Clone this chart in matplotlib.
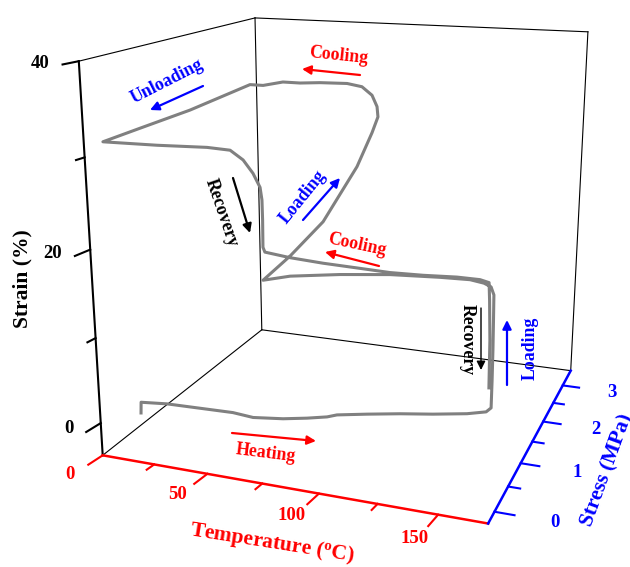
import matplotlib.pyplot as plt

plt.rcParams['font.family'] = ['Liberation Serif', 'DejaVu Serif']
plt.rcParams['font.weight'] = 'bold'
plt.rcParams['mathtext.fontset'] = 'custom'
plt.rcParams['mathtext.rm'] = 'Liberation Serif:bold'
plt.rcParams['mathtext.bf'] = 'Liberation Serif:bold'

# box limits
t_lim = (0, 170)
s_lim = (-0.22, 3.45)
e_lim = (-3.9, 40)

# test path: temperature (C), stress (MPa), strain (%)
temp = [14.0, 14.3, 26.8, 42.4, 57.7, 66.9, 80.4, 91.0, 99.8, 104.1, 116.9,
        130.7, 144.2, 157.9, 165.4, 167.3,            # heating
        166.8, 166.2, 165.5, 164.8,                   # loading
        163.6, 160.8, 155.3, 143.4, 123.1, 102.1, 80.6, 68.6,   # cooling
        72.7, 77.1, 77.2, 75.1, 73.8,                 # loading
        73.3, 70.7, 65.5, 57.8, 43.6, 33.0, 23.8, 13.0, 5.8,     # cooling
        0.6, 0.6, 2.7,                                # unloading
        27.5, 49.8, 59.8, 65.3, 69.4, 72.3, 73.0, 73.1, 73.0,    # heating / recovery
        73.8, 84.6, 98.5, 112.6, 126.1, 139.3, 152.6, 161.5, 165.0,
        165.4, 166.0, 166.2]                          # recovery
stress = [0] * 16 + \
         [0.05, 0.1, 0.15, 0.2] + \
         [0.2] * 8 + \
         [0.61, 1.2, 2.14, 2.73, 3.0] + \
         [3.0] * 9 + \
         [1.78, 0.75, 0] + \
         [0] * 9 + \
         [0] * 9 + \
         [0] * 3
strain = [0.7, 2.0, 2.3, 2.4, 2.5, 2.3, 2.7, 3.2, 3.7, 4.1, 4.7,
          5.3, 5.8, 6.4, 6.9, 7.4,
          10.1, 13.1, 16.0, 18.4,
          19.2, 19.5, 19.7, 19.6, 19.3, 18.7, 17.9, 17.1,
          18.5, 20.7, 24.7, 27.5, 28.9,
          30.2, 31.6, 32.6, 32.9, 32.8, 32.6, 32.6, 32.0, 32.0,
          31.0, 31.0, 31.2,
          31.3, 31.5, 31.4, 30.5, 29.2, 27.8, 26.5, 24.4, 21.5,
          21.0, 20.7, 20.5, 20.4, 20.3, 20.4, 20.6, 20.6, 20.4,
          18.6, 14.5, 9.5]

t_major = [0, 50, 100, 150]
t_minor = [25, 75, 125]
s_major = [0, 1, 2, 3]
s_minor = [0.5, 1.5, 2.5]
e_major = [0, 20, 40]
e_minor = [10, 30]

fig = plt.figure(figsize=(6.3, 5.67), dpi=100)
ax = fig.add_axes([0.1015, 0.072, 0.9, 1.0], projection='3d', computed_zorder=False)
ax.set_proj_type('persp', focal_length=0.41)
ax.view_init(elev=16, azim=-69.7)
ax.set_box_aspect((1.19, 1.155, 1.185), zoom=1.1145)
ax.set_xlim(t_lim)
ax.set_ylim(s_lim)
ax.set_zlim(e_lim)
ax.set_axis_off()

t0, t1 = t_lim
s0, s1 = s_lim
e0, e1 = e_lim

# box frame
thin = dict(color='black', lw=0.8, clip_on=False)
ax.plot([t0, t0], [s0, s1], [e1, e1], **thin)
ax.plot([t0, t0], [s1, s1], [e0, e1], **thin)
ax.plot([t0, t0], [s0, s1], [e0, e0], **thin)
ax.plot([t0, t1], [s1, s1], [e1, e1], **thin)
ax.plot([t1, t1], [s1, s1], [e0, e1], **thin)
ax.plot([t0, t1], [s1, s1], [e0, e0], **thin)
ax.plot([t0, t0], [s0, s0], [e0, e1], color='black', lw=1.5, clip_on=False)
ax.plot([t0, t1], [s0, s0], [e0, e0], color='red', lw=1.8, clip_on=False)
ax.plot([t1, t1], [s0, s1], [e0, e0], color='blue', lw=1.8, clip_on=False)

# ticks (pointing out of the box)
dt, ds = -1.0, -0.22
for t in t_major + t_minor:
    k = 1 if t in t_major else 0.55
    ax.plot([t, t + k * dt], [s0, s0 + k * ds], [e0, e0], color='red', lw=1.5, clip_on=False)
for e in e_major + e_minor:
    k = 1 if e in e_major else 0.55
    ax.plot([t0, t0 + k * dt], [s0, s0 + k * ds], [e, e], color='black', lw=1.5, clip_on=False)
for s in s_major + s_minor:
    k = 8 if s in s_major else 5
    ax.plot([t1, t1 + k], [s, s], [e0, e0], color='blue', lw=1.5, clip_on=False)

for t in t_major:
    ax.text(t - 3.0, s0 - 0.46, e0, str(t), color='red', fontsize=13.5,
            ha='center', va='center')
for e in e_major:
    ax.text(t0 - 7.8, s0 - 0.19, e, str(e), color='black', fontsize=13.5,
            ha='right', va='center')
for s in s_major:
    ax.text(t1 + 24, s, e0, str(s), color='blue', fontsize=13.5,
            ha='center', va='center')

# the measured path
ax.plot(temp, stress, strain, color='#808080', lw=2.2, clip_on=False,
        solid_joinstyle='round')

# annotations in pixel coordinates
ov = fig.add_axes([0, 0, 1, 1])
ov.set_xlim(0, 630)
ov.set_ylim(567, 0)
ov.axis('off')

ov.text(22, 279, 'Strain (%)', fontsize=15.5, rotation=90, ha='center', va='center')
ov.text(272, 543, r'Temperature ($\mathbf{^{o}}$C)', fontsize=15.5, color='red',
        rotation=-9, ha='center', va='center', rotation_mode='anchor')
ov.text(607, 470, 'Stress (MPa)', fontsize=15.5, color='blue',
        rotation=70, ha='center', va='center', rotation_mode='anchor')

labels = [
    ('Unloading', 167, 81, 27, 'blue'),
    ('Cooling', 338, 56, -6, 'red'),
    ('Recovery', 221, 213, -71, 'black'),
    ('Loading', 303, 197, 51, 'blue'),
    ('Cooling', 357, 245, -12, 'red'),
    ('Recovery', 467, 340, -90, 'black'),
    ('Loading', 530, 348, 90, 'blue'),
    ('Heating', 266, 453, -7, 'red'),
]
for txt, x, y, rot, c in labels:
    ov.text(x, y, txt, fontsize=12.8, color=c, rotation=rot,
            ha='center', va='center', rotation_mode='anchor')

arrows = [
    ((203, 86), (150, 110), 'blue', 1.6),
    ((360, 75), (302, 69), 'red', 1.6),
    ((233, 178), (250, 233), 'black', 1.6),
    ((303, 220), (340, 178), 'blue', 1.6),
    ((379, 266), (325, 252), 'red', 1.6),
    ((481, 308), (481, 370), 'black', 1.0),
    ((507, 385), (507, 320), 'blue', 1.6),
    ((232, 433), (316, 441), 'red', 1.6),
]
for (x0, y0), (x1, y1), c, w in arrows:
    ov.annotate('', xy=(x1, y1), xytext=(x0, y0),
                arrowprops=dict(arrowstyle='-|>', color=c, lw=w,
                                mutation_scale=13, shrinkA=0, shrinkB=0))

fig.savefig('out.png', dpi=100)
